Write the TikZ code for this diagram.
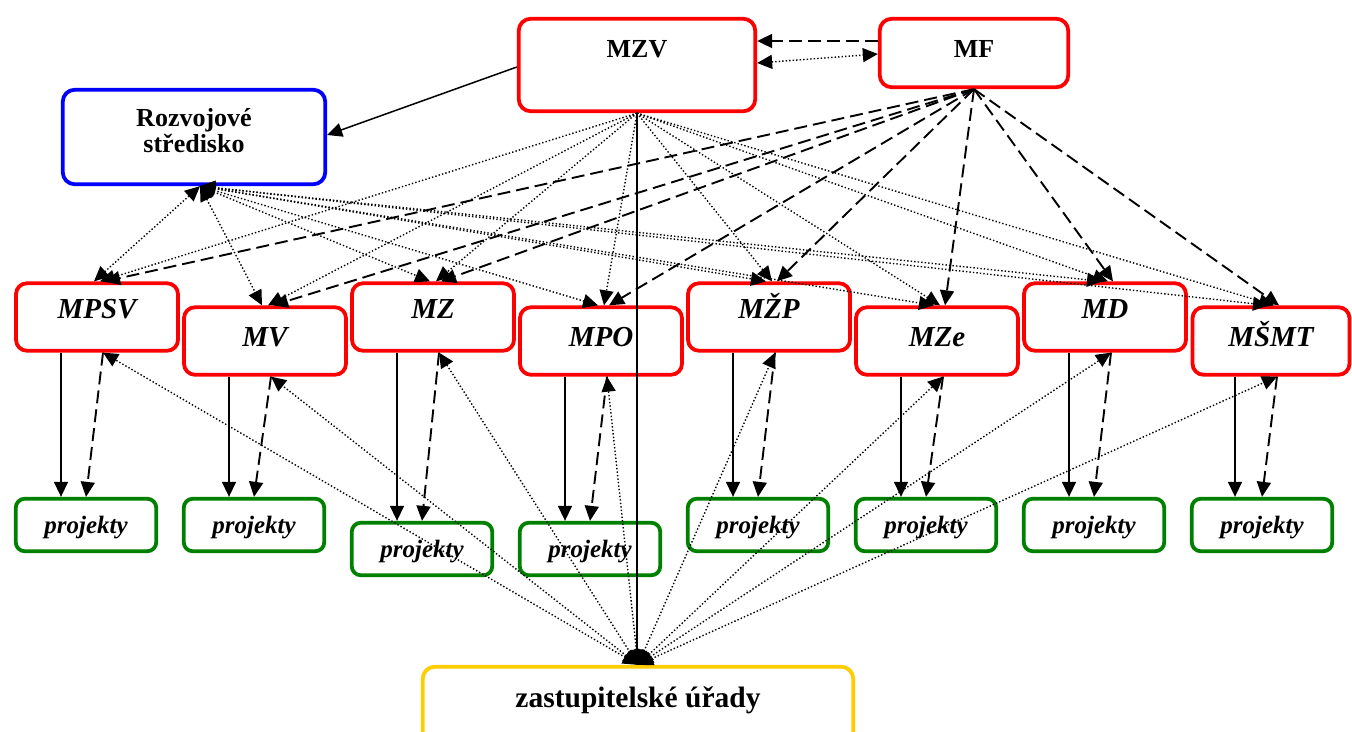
\documentclass[tikz,border=0pt]{standalone}
\usepackage{fontspec}
\setmainfont{Liberation Serif}
\usetikzlibrary{arrows.meta,calc}
\definecolor{boxred}{RGB}{255,0,0}
\definecolor{boxblue}{RGB}{0,0,255}
\definecolor{boxgreen}{RGB}{0,128,0}
\definecolor{boxgold}{RGB}{255,204,0}
\begin{document}
\begin{tikzpicture}[x=1pt,y=-1pt,
  box/.style={rounded corners=12pt, line width=3.8pt, inner sep=0pt, align=center},
  topbox/.style={box, draw=boxred, font=\fontsize{26}{26}\selectfont\bfseries},
  minbox/.style={box, rounded corners=11pt, draw=boxred, minimum width=162pt, minimum height=67.5pt,
     text height=34pt, font=\fontsize{29}{29}\selectfont\bfseries\itshape},
  uprow/.style={minbox, text depth=30.8pt},
  lowrow/.style={minbox, text depth=22.8pt},
  projbox/.style={box, rounded corners=9pt, draw=boxgreen, minimum width=140.5pt, minimum height=52.5pt,
     text height=30pt, text depth=14pt, font=\fontsize{25}{25}\selectfont\bfseries\itshape},
  tipsingle/.style={-{Triangle[length=15pt,width=14pt]}},
  tipboth/.style={{Triangle[length=15pt,width=14pt]}-{Triangle[length=15pt,width=14pt]}},
  solidline/.style={line width=1.5pt},
  dotline/.style={line width=1.4pt, dash pattern=on 1.4pt off 2.1pt},
  dashline/.style={line width=1.9pt, dash pattern=on 13pt off 6pt}
]
\useasboundingbox (0,0) rectangle (1352,731);

% top boxes
\node[topbox, minimum width=236.5pt, minimum height=92.5pt, text height=30pt, text depth=46pt] (mzv) at (637,65) {MZV};
\node[topbox, minimum width=188.5pt, minimum height=68.5pt, text height=25pt, text depth=17pt] (mf) at (974,53) {MF};
\node[box, draw=boxblue, minimum width=262.5pt, minimum height=94.5pt, text height=28pt, text depth=50pt,
      font=\fontsize{26}{26}\selectfont\bfseries] (rs) at (194,137)
      {\begin{tabular}[t]{@{}c@{}}Rozvojové\\ středisko\end{tabular}};

% ministries
\node[uprow]  (mpsv) at (97,317) {MPSV};
\node[lowrow] (mv)   at (265,341) {MV};
\node[uprow]  (mz)   at (433,317) {MZ};
\node[lowrow] (mpo)  at (601,341) {MPO};
\node[uprow]  (mzp)  at (769,317) {MŽP};
\node[lowrow] (mze)  at (937,341) {MZe};
\node[uprow]  (md)   at (1105,317) {MD};
\node[lowrow, minimum width=157pt] (msmt) at (1271,341) {MŠMT};

% projects
\node[projbox] (p1) at (86,525) {projekty};
\node[projbox] (p2) at (254,525) {projekty};
\node[projbox] (p3) at (422,549) {projekty};
\node[projbox] (p4) at (590,549) {projekty};
\node[projbox] (p5) at (758,525) {projekty};
\node[projbox] (p6) at (926,525) {projekty};
\node[projbox] (p7) at (1094,525) {projekty};
\node[projbox] (p8) at (1262,525) {projekty};

% embassies
\node[box, draw=boxgold, minimum width=430.5pt, minimum height=100pt, text height=30pt, text depth=49.5pt,
      font=\fontsize{29.5}{29.5}\selectfont\bfseries] (zu) at (638,716.75) {zastupitelské úřady};

% top connectors
\draw[solidline, tipsingle] ($(mzv.west)+(0,2)$) -- ($(rs.east)+(0,-2)$);
\draw[dashline, tipsingle] ($(mf.west)+(0,-12)$) -- ($(mzv.east)+(0,-24)$);
\draw[dotline, tipboth] ($(mzv.east)+(0,-2)$) -- ($(mf.west)+(0,1)$);
\draw[solidline, tipsingle] (mzv.south) -- (mzv.south |- zu.north);

\foreach \m/\p in {mpsv/p1, mv/p2, mz/p3, mpo/p4, mzp/p5, mze/p6, md/p7, msmt/p8} {
  \coordinate (sa) at ($(\m.south)+(-36,0)$);
  \coordinate (da) at ($(\m.south)+(6,0)$);
  \draw[solidline, tipsingle] (sa) -- (sa |- \p.north);
  \draw[dashline, tipsingle] (da) -- (\p.north);
  \draw[dotline, tipboth] (zu.north) -- (da);
  \draw[dotline, tipboth] ($(rs.south)+(6,0)$) -- ($(\m.north)+(-3,0)$);
  \draw[dotline, tipsingle] (mzv.south) -- ($(\m.north)+(3,0)$);
  \draw[dashline, tipsingle] (mf.south) -- ($(\m.north)+(8,0)$);
}
\end{tikzpicture}
\end{document}
